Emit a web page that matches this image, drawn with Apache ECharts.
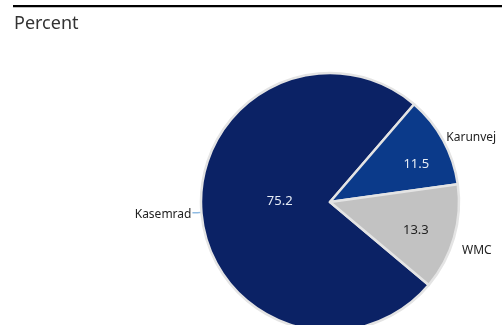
<!DOCTYPE html>
<html>
<head>
<meta charset="utf-8">
<script src="https://cdn.jsdelivr.net/npm/echarts@6/dist/echarts.min.js"></script>
<style>
html,body{margin:0;padding:0;background:#fff;}
#chart{width:502px;height:325px;}
</style>
</head>
<body>
<div id="chart"></div>
<script>
const categories = ['Kasemrad', 'Karunvej', 'WMC'];
const values = [75.2, 11.5, 13.3];
const unitLabel = 'Percent';

const sliceColors = ['#0b2265', '#0b3a8a', '#c2c2c2'];
const valueLabelColors = ['#e6ecf5', '#e6ecf5', '#222222'];
const innerShift = [[17, -6], [27, -5], [21, 10]];
const outerShift = [[2, 2], [0, -3], [5, 13]];

const chart = echarts.init(document.getElementById('chart'), null, {renderer: 'canvas'});

const center = [330, 202];
const radius = 129;
const startAngle = 320;

const innerData = categories.map((c, i) => ({
  name: c,
  value: values[i],
  itemStyle: {color: sliceColors[i]},
  label: {color: valueLabelColors[i]}
}));

const outerData = categories.map((c, i) => ({
  name: c,
  value: values[i],
  labelLine: i === 0
    ? {show: true, length: 4, length2: 5, lineStyle: {color: '#8fbbe3', width: 1.3}}
    : {show: false, length: 0, length2: 0}
}));

chart.setOption({
  animation: false,
  title: {
    text: unitLabel,
    left: 9,
    top: 10,
    textStyle: {fontFamily: 'Noto Sans', fontSize: 18, fontWeight: 'normal', color: '#333333'}
  },
  graphic: [{
    type: 'rect',
    shape: {x: 13, y: 5, width: 489, height: 2.2},
    style: {fill: '#000000'}
  }],
  series: [
    {
      type: 'pie',
      center: center,
      radius: radius,
      startAngle: startAngle,
      clockwise: true,
      silent: true,
      data: innerData,
      itemStyle: {borderColor: '#e4e4e4', borderWidth: 2.5},
      label: {
        show: true,
        position: 'inside',
        formatter: p => p.value.toFixed(1),
        fontFamily: 'Noto Sans',
        fontSize: 13
      },
      labelLayout: p => ({dx: innerShift[p.dataIndex][0], dy: innerShift[p.dataIndex][1]})
    },
    {
      type: 'pie',
      center: center,
      radius: radius,
      startAngle: startAngle,
      clockwise: true,
      silent: true,
      data: outerData,
      itemStyle: {color: 'rgba(0,0,0,0)', borderWidth: 0},
      label: {
        show: true,
        position: 'outside',
        formatter: '{b}',
        fontFamily: 'Noto Sans',
        fontSize: 12,
        color: '#222222',
        overflow: 'none',
        edgeDistance: 0,
        bleedMargin: 0,
        distanceToLabelLine: 3
      },
      labelLine: {lineStyle: {color: '#8fbbe3', width: 1.3}},
      labelLayout: p => ({dx: outerShift[p.dataIndex][0], dy: outerShift[p.dataIndex][1]})
    }
  ]
});
</script>
</body>
</html>
